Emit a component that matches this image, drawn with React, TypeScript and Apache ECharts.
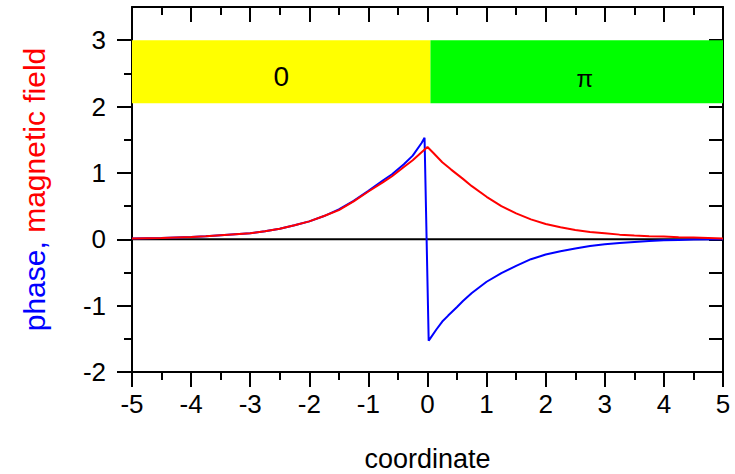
import React, { useEffect, useRef } from "react";
import * as echarts from "echarts";

// Magnetic field profile (red)
const fieldX = [
  -5, -4.75, -4.5, -4.25, -4, -3.75, -3.5, -3.25, -3, -2.75, -2.5, -2.25, -2, -1.75, -1.5, -1.25, -1, -0.75, -0.6, -0.4, -0.25, -0.1, 0,
  0.1, 0.25, 0.4, 0.6, 0.75, 1, 1.25, 1.5, 1.75, 2, 2.25, 2.5, 2.75, 3, 3.25, 3.5, 3.75, 4, 4.25, 4.5, 4.75, 5,
];
const fieldY = [
  0.01, 0.015, 0.02, 0.028, 0.035, 0.045, 0.06, 0.075, 0.09, 0.12, 0.16, 0.21, 0.27, 0.35, 0.44, 0.57, 0.72, 0.86, 0.95, 1.09, 1.19, 1.31, 1.39,
  1.3, 1.16, 1.05, 0.91, 0.8, 0.64, 0.5, 0.39, 0.3, 0.23, 0.18, 0.14, 0.11, 0.09, 0.07, 0.055, 0.045, 0.04, 0.03, 0.025, 0.018, 0.01,
];

// Phase profile (blue), jumping from +1.53 to -1.53 at the junction
const phaseX = [
  -5, -4.75, -4.5, -4.25, -4, -3.75, -3.5, -3.25, -3, -2.75, -2.5, -2.25, -2, -1.75, -1.5, -1.25, -1, -0.75, -0.6, -0.4, -0.25, -0.1, -0.05,
  0.02, 0.05, 0.15, 0.25, 0.35, 0.5, 0.6, 0.75, 1, 1.25, 1.5, 1.75, 2, 2.25, 2.5, 2.75, 3, 3.25, 3.5, 3.75, 4, 4.25, 4.5, 5,
];
const phaseY = [
  0.01, 0.015, 0.02, 0.028, 0.035, 0.045, 0.06, 0.075, 0.09, 0.12, 0.16, 0.21, 0.27, 0.35, 0.45, 0.58, 0.73, 0.89, 0.98, 1.13, 1.26, 1.45, 1.53,
  -1.53, -1.49, -1.36, -1.24, -1.15, -1.02, -0.93, -0.81, -0.64, -0.51, -0.4, -0.3, -0.23, -0.18, -0.14, -0.1, -0.075, -0.055, -0.04, -0.025, -0.015, -0.01, -0.005, 0,
];

// Phase regions drawn as bands across the top
const bandNames = ["0", "π"];
const bandEdges = [-5, 0.05, 5];
const bandBottom = 2.05;
const bandTop = 3;

// Axis ticks
const yMajorTicks = [-2, -1, 0, 1, 2, 3];
const yMinorTicks = [-1.5, -0.5, 0.5, 1.5, 2.5];

const FONT = "'Liberation Sans', Arial, Helvetica, sans-serif";
const BLACK = "#000000";

export default function App() {
  const ref = useRef<HTMLDivElement>(null);

  useEffect(() => {
    if (!ref.current) return;
    const chart = echarts.init(ref.current, undefined, { renderer: "svg" });

    const line = { show: true, onZero: false, lineStyle: { color: BLACK, width: 2 } };
    const tickStyle = { color: BLACK, width: 2 };
    const bandColors = ["#ffff00", "#00ff00"];
    const bandLabelOffsets = [[0, 5], [8, 7]];

    const option: any = {
      animation: false,
      backgroundColor: "#ffffff",
      grid: { left: 132, right: 12, top: 7, bottom: 102, outerBoundsMode: "none" },
      xAxis: [
        {
          type: "value",
          min: -5,
          max: 5,
          interval: 1,
          position: "bottom",
          axisLine: line,
          axisTick: { show: true, inside: false, length: 15, lineStyle: tickStyle },
          minorTick: { show: true, splitNumber: 2, length: 8, lineStyle: tickStyle },
          axisLabel: { show: true, margin: 19, fontSize: 26, color: BLACK, fontFamily: FONT },
          splitLine: { show: false },
          minorSplitLine: { show: false },
          name: "coordinate",
          nameLocation: "middle",
          nameGap: 73,
          nameTextStyle: { fontSize: 27, color: BLACK, fontFamily: FONT },
        },
        {
          type: "value",
          min: -5,
          max: 5,
          interval: 1,
          position: "top",
          axisLine: line,
          axisTick: { show: true, inside: true, length: 15, lineStyle: tickStyle },
          minorTick: { show: true, splitNumber: 2, length: 8, lineStyle: tickStyle },
          axisLabel: { show: false },
          splitLine: { show: false },
          minorSplitLine: { show: false },
        },
      ],
      yAxis: [
        {
          type: "value",
          min: -2,
          max: 3.5,
          position: "left",
          axisLine: line,
          axisTick: { show: true, inside: false, length: 15, lineStyle: tickStyle, customValues: yMajorTicks },
          axisLabel: { show: true, margin: 26, fontSize: 26, color: BLACK, fontFamily: FONT, customValues: yMajorTicks },
          splitLine: { show: false },
          name: "{b|phase, }{r|magnetic field}",
          nameLocation: "middle",
          nameRotate: 90,
          nameGap: 83,
          nameTextStyle: {
            fontSize: 30,
            fontFamily: FONT,
            rich: {
              b: { color: "#0000ff", fontSize: 30, fontFamily: FONT },
              r: { color: "#ff0000", fontSize: 30, fontFamily: FONT },
            },
          },
        },
        {
          type: "value",
          min: -2,
          max: 3.5,
          position: "left",
          axisLine: { show: false, onZero: false },
          axisTick: { show: true, inside: false, length: 8, lineStyle: tickStyle, customValues: yMinorTicks },
          axisLabel: { show: false },
          splitLine: { show: false },
        },
        {
          type: "value",
          min: -2,
          max: 3.5,
          position: "right",
          axisLine: line,
          axisTick: { show: true, inside: true, length: 14, lineStyle: tickStyle, customValues: [...yMajorTicks, ...yMinorTicks] },
          axisLabel: { show: false },
          splitLine: { show: false },
        },
      ],
      series: [
        {
          name: "zero",
          type: "line",
          xAxisIndex: 0,
          yAxisIndex: 0,
          data: [[-5, 0], [5, 0]],
          symbol: "none",
          silent: true,
          lineStyle: { color: BLACK, width: 2 },
          markArea: {
            silent: true,
            data: bandNames.map((name, i) => [
              {
                name,
                xAxis: bandEdges[i],
                yAxis: bandBottom,
                itemStyle: { color: bandColors[i], opacity: 1 },
                label: {
                  show: true,
                  position: "inside",
                  offset: bandLabelOffsets[i],
                  color: BLACK,
                  fontSize: i === 0 ? 28 : 24,
                  fontFamily: FONT,
                },
              },
              { xAxis: bandEdges[i + 1], yAxis: bandTop },
            ]),
          },
        },
        {
          name: "phase",
          type: "line",
          xAxisIndex: 0,
          yAxisIndex: 0,
          data: phaseX.map((x, i) => [x, phaseY[i]]),
          symbol: "none",
          smooth: false,
          lineStyle: { color: "#0000ff", width: 2 },
        },
        {
          name: "magnetic field",
          type: "line",
          xAxisIndex: 0,
          yAxisIndex: 0,
          data: fieldX.map((x, i) => [x, fieldY[i]]),
          symbol: "none",
          smooth: false,
          lineStyle: { color: "#ff0000", width: 2 },
        },
      ],
    };

    chart.setOption(option);
    return () => chart.dispose();
  }, []);

  return (
    <div
      ref={ref}
      style={{ position: "fixed", left: 0, top: 0, width: 735, height: 474, background: "#fff" }}
    />
  );
}
